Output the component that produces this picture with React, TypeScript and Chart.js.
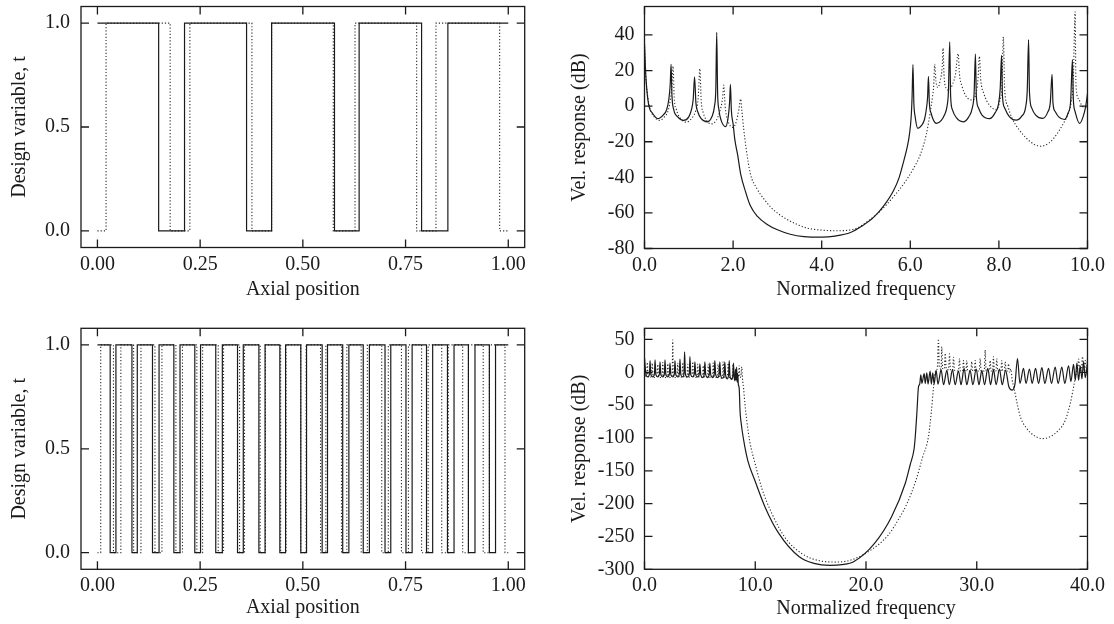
import React, { useEffect, useRef } from "react";
import { Chart, registerables } from "chart.js";

Chart.register(...registerables);

const FONT = "'Liberation Serif', 'Times New Roman', serif";
const INK = "#1a1a1a";

// ---------- tick values / labels ----------
const axialTicks = [0, 0.25, 0.5, 0.75, 1];
const axialLabels = ["0.00", "0.25", "0.50", "0.75", "1.00"];
const designTicks = [0, 0.5, 1];
const designLabels = ["0.0", "0.5", "1.0"];
const freqTicksTop = [0, 2, 4, 6, 8, 10];
const freqLabelsTop = ["0.0", "2.0", "4.0", "6.0", "8.0", "10.0"];
const dbTicksTop = [-80, -60, -40, -20, 0, 20, 40];
const dbLabelsTop = ["-80", "-60", "-40", "-20", "0", "20", "40"];
const freqTicksBottom = [0, 10, 20, 30, 40];
const freqLabelsBottom = ["0.0", "10.0", "20.0", "30.0", "40.0"];
const dbTicksBottom = [-300, -250, -200, -150, -100, -50, 0, 50];
const dbLabelsBottom = ["-300", "-250", "-200", "-150", "-100", "-50", "0", "50"];

// ---------- design variable layouts (switch positions) ----------
const topSolidEdges = [0, 0.149, 0.212, 0.363, 0.424, 0.577, 0.637, 0.789, 0.853, 1.0];
const topSolidStart = 1;
const topDottedEdges = [0, 0.021, 0.177, 0.225, 0.376, 0.424, 0.574, 0.627, 0.777, 0.824, 0.979, 1.0];
const topDottedStart = 0;

const bottomSolidEdges = [
  0, 0.031, 0.045, 0.084, 0.097, 0.134, 0.15, 0.186, 0.201, 0.237, 0.251, 0.288, 0.304,
  0.341, 0.355, 0.393, 0.408, 0.444, 0.458, 0.495, 0.509, 0.547, 0.56, 0.597, 0.612,
  0.647, 0.662, 0.7, 0.714, 0.751, 0.766, 0.801, 0.816, 0.852, 0.868, 0.903, 0.919,
  0.954, 0.969, 1.0,
];
const bottomSolidStart = 1;
const bottomDottedEdges = [
  0, 0.008, 0.039, 0.057, 0.088, 0.106, 0.14, 0.157, 0.191, 0.207, 0.242, 0.256, 0.294,
  0.307, 0.346, 0.358, 0.396, 0.409, 0.446, 0.459, 0.495, 0.508, 0.543, 0.556, 0.594,
  0.607, 0.642, 0.657, 0.692, 0.708, 0.74, 0.757, 0.789, 0.805, 0.838, 0.854, 0.889,
  0.903, 0.939, 0.954, 0.992, 1.0,
];
const bottomDottedStart = 0;

// ---------- velocity responses, top (freq, dB) ----------
const topRespSolid: [number, number][] = [
  [0, 35], [0.02, 22], [0.05, 10], [0.1, 0], [0.18, -4], [0.3, -7], [0.42, -5], [0.5, -2],
  [0.55, 4], [0.58, 12], [0.6, 23.5], [0.62, 6], [0.66, -2], [0.75, -6], [0.88, -8],
  [1.0, -6], [1.06, -2], [1.1, 4], [1.13, 16.5], [1.16, 2], [1.2, -3], [1.28, -7],
  [1.42, -8.8], [1.52, -6], [1.58, 0], [1.61, 10], [1.63, 41.5], [1.65, 8], [1.68, -2],
  [1.73, -8], [1.83, -11.5], [1.89, -6], [1.92, 2], [1.94, 12.2], [1.96, -2], [2.0, -10],
  [2.04, -19], [2.1, -27], [2.17, -38], [2.28, -48], [2.39, -56], [2.55, -62], [2.77, -66.5],
  [3.0, -69.5], [3.29, -72], [3.6, -73.3], [4.0, -73.6], [4.3, -73], [4.65, -71],
  [4.9, -67.5], [5.17, -62.5], [5.4, -56], [5.62, -47.5], [5.75, -40], [5.85, -31],
  [5.93, -23], [5.98, -16], [6.02, -6], [6.04, 5], [6.06, 23.4], [6.08, 2], [6.11, -6],
  [6.17, -12.5], [6.25, -11], [6.32, -7.5], [6.36, -2], [6.39, 5], [6.41, 16.8], [6.43, 2],
  [6.47, -4], [6.59, -9.7], [6.7, -8], [6.77, -5], [6.83, 0], [6.86, 8], [6.89, 36.1],
  [6.91, 6], [6.95, -2], [7.04, -6.5], [7.19, -8.8], [7.32, -6], [7.4, -1], [7.44, 7],
  [7.47, 29.2], [7.49, 6], [7.54, -1], [7.62, -5], [7.79, -7], [7.92, -3.5], [7.99, 1],
  [8.03, 10], [8.06, 28.6], [8.08, 6], [8.13, -1], [8.24, -6], [8.39, -7.9], [8.52, -5.5],
  [8.6, -1], [8.64, 9], [8.67, 37.4], [8.69, 8], [8.74, -1], [8.83, -5], [8.99, -6.9],
  [9.1, -3.5], [9.16, 2], [9.2, 17.9], [9.22, 2], [9.27, -3], [9.35, -6], [9.48, -7.5],
  [9.56, -4], [9.62, 3], [9.66, 26.2], [9.68, 4], [9.72, -3], [9.82, -9.7], [9.9, -6],
  [9.96, 0], [10.0, 7],
];
const topRespDotted: [number, number][] = [
  [0, 35], [0.02, 20], [0.06, 8], [0.12, -1], [0.22, -6], [0.34, -8], [0.45, -6],
  [0.54, -2], [0.59, 5], [0.62, 12], [0.645, 22.5], [0.67, 5], [0.72, -2], [0.8, -6.5],
  [0.94, -9], [1.06, -7], [1.15, -3], [1.21, 4], [1.25, 21], [1.28, 3], [1.33, -4],
  [1.4, -8], [1.5, -10], [1.62, -8], [1.7, -3], [1.76, 4], [1.79, 11.8], [1.82, 0],
  [1.88, -8], [2.0, -12], [2.08, -8], [2.13, -2], [2.17, 4], [2.2, -3], [2.24, -13],
  [2.29, -23], [2.39, -38], [2.53, -46], [2.69, -52], [2.9, -58], [3.14, -62.5], [3.4, -66],
  [3.67, -68.5], [4.0, -69.7], [4.4, -70], [4.8, -68.5], [5.05, -64.5], [5.32, -59],
  [5.6, -51.5], [5.85, -43.7], [6.05, -36], [6.23, -27], [6.36, -16], [6.44, -5], [6.5, 5],
  [6.53, 12], [6.55, 23.5], [6.58, 14], [6.62, 10.5], [6.68, 15], [6.72, 22], [6.74, 32.5],
  [6.76, 18], [6.81, 10], [6.87, 9], [6.95, 12], [7.02, 18], [7.08, 29.5], [7.11, 18],
  [7.17, 11], [7.26, 5.5], [7.41, 3.4], [7.49, 8], [7.53, 16], [7.56, 28], [7.59, 15],
  [7.66, 7], [7.79, 0.5], [7.94, -2], [8.02, 3], [8.07, 12], [8.1, 39], [8.13, 10],
  [8.2, 0], [8.3, -7], [8.45, -13], [8.62, -18], [8.8, -21.5], [8.95, -22.5], [9.14, -20.5],
  [9.3, -16], [9.45, -10], [9.55, -5], [9.63, 2], [9.68, 15], [9.72, 53], [9.74, 12],
  [9.8, 4], [9.88, 0], [10.0, -1],
];

// ---------- velocity responses, bottom (freq, dB) ----------
const bottomRespSolid: [number, number][] = [
  [0, 22], [0.15, -5], [0.3, -7], [0.45, -2], [0.5, 18], [0.58, -4], [0.75, -7], [0.9, -2],
  [0.95, 19], [1.03, -4], [1.2, -7], [1.35, -2], [1.4, 16], [1.48, -4], [1.65, -7],
  [1.8, -2], [1.85, 19], [1.93, -4], [2.1, -7], [2.25, -2], [2.3, 14], [2.38, -4],
  [2.55, -7], [2.7, -2], [2.75, 18], [2.83, -4], [3.0, -7], [3.15, -2], [3.2, 20],
  [3.28, -4], [3.45, -7], [3.57, -1], [3.62, 31], [3.7, -4], [3.9, -7], [4.05, -2],
  [4.1, 24], [4.18, -4], [4.35, -7], [4.5, -2], [4.55, 16], [4.63, -4], [4.8, -7],
  [4.95, -2], [5.0, 13], [5.08, -4], [5.25, -8], [5.4, -2], [5.45, 16], [5.53, -4],
  [5.7, -8], [5.85, -2], [5.9, 14], [5.98, -4], [6.15, -8], [6.3, -2], [6.35, 18],
  [6.43, -4], [6.6, -8], [6.75, -2], [6.8, 16], [6.88, -5], [7.05, -9], [7.2, -3],
  [7.25, 16], [7.33, -5], [7.48, -10], [7.6, -3], [7.65, 18], [7.72, -6], [7.88, -11],
  [7.98, -4], [8.03, 14], [8.1, -8], [8.17, -13], [8.22, 5], [8.27, -12], [8.32, 8],
  [8.37, -15], [8.42, -2], [8.47, -18], [8.55, -24.5], [8.63, -60], [8.71, -75],
  [8.95, -103], [9.32, -134], [9.95, -164], [10.88, -205], [12.11, -245], [13.97, -281],
  [15.3, -291], [16.75, -294], [17.8, -293], [18.92, -288], [20.77, -260.5], [22.31, -220],
  [23.55, -169], [24.0, -140], [24.33, -118], [24.44, -100], [24.6, -60], [24.74, -22],
  [24.85, -18], [24.95, -4], [25.05, -17], [25.25, -2], [25.35, -17], [25.49, -1],
  [25.6, -18], [25.79, 2], [25.9, -18], [26.03, -1], [26.15, -18], [26.33, 3], [26.5, -18],
  [26.78, 4], [27.0, -19], [27.3, 3], [27.52, -19], [27.81, 4], [28.05, -19], [28.35, 2],
  [28.58, -19], [28.86, 6], [29.1, -19], [29.4, 3], [29.65, -19], [29.95, 5], [30.2, -19],
  [30.46, 3], [30.7, -19], [31.0, 6], [31.25, -19], [31.51, 4], [31.75, -19], [32.05, 5],
  [32.3, -19], [32.6, 3], [32.9, -22], [33.2, -27], [33.45, -18], [33.68, 21], [33.9, -17],
  [34.22, 6], [34.45, -17], [34.76, 5], [35.0, -17], [35.31, 6], [35.58, -17], [35.88, 7],
  [36.15, -17], [36.48, 6], [36.75, -17], [37.08, 8], [37.35, -17], [37.68, 8],
  [37.95, -17], [38.29, 10], [38.5, -14], [38.74, 12], [38.9, -12], [39.04, 14],
  [39.2, -12], [39.34, 10], [39.5, -10], [39.64, 16], [39.8, -8], [40.0, 12],
];
const bottomRespDotted: [number, number][] = [
  [0, 10], [0.1, -6], [0.2, -3], [0.25, 15], [0.32, -5], [0.5, -8], [0.65, -3], [0.7, 14],
  [0.77, -5], [0.95, -8], [1.13, -3], [1.2, 12], [1.27, -5], [1.45, -8], [1.6, -3],
  [1.65, 15], [1.72, -5], [1.9, -8], [2.05, -3], [2.1, 13], [2.17, -5], [2.35, -8],
  [2.5, -2], [2.55, 49], [2.6, -4], [2.8, -8], [2.95, -3], [3.0, 14], [3.07, -5], [3.25, -8],
  [3.4, -3], [3.45, 15], [3.52, -5], [3.7, -8], [3.85, -3], [3.9, 12], [3.97, -5],
  [4.15, -8], [4.3, -3], [4.35, 16], [4.42, -5], [4.6, -8], [4.75, -3], [4.8, 12],
  [4.87, -5], [5.05, -8], [5.25, -3], [5.3, 10], [5.37, -5], [5.55, -8], [5.7, -3],
  [5.75, 12], [5.82, -5], [6.0, -8], [6.15, -3], [6.2, 14], [6.27, -5], [6.45, -8],
  [6.6, -3], [6.65, 12], [6.72, -5], [6.9, -9], [7.05, -3], [7.1, 16], [7.17, -5],
  [7.35, -9], [7.5, -3], [7.55, 14], [7.62, -5], [7.8, -10], [7.95, -3], [8.0, 12],
  [8.07, -6], [8.3, -11], [8.5, -4], [8.55, 10], [8.62, -8], [8.72, -4], [8.78, 8],
  [8.85, -10], [8.95, -25], [9.05, -45], [9.23, -73], [9.5, -105], [10.0, -140],
  [10.6, -177], [11.5, -215], [12.7, -252], [14.2, -276], [15.8, -287], [17.4, -289],
  [18.8, -285], [20.5, -270], [22.0, -248], [23.0, -222], [23.7, -200], [24.5, -165],
  [25.1, -130], [25.64, -98], [25.9, -60], [26.1, -22], [26.25, 0], [26.45, 8], [26.54, 51],
  [26.62, 8], [26.78, 5], [26.84, 39], [26.92, 6], [27.08, 5], [27.15, 29], [27.25, 5],
  [27.45, 4], [27.54, 28], [27.62, 4], [27.82, 3], [27.9, 23], [28.0, 3], [28.35, 2],
  [28.44, 21], [28.52, 2], [28.72, 2], [28.8, 18], [28.88, 2], [29.02, 2], [29.1, 18],
  [29.18, 2], [29.47, 2], [29.55, 16], [29.63, 2], [29.78, 2], [29.86, 18], [29.94, 2],
  [30.23, 2], [30.31, 21], [30.39, 2], [30.68, 2], [30.76, 34], [30.84, 2], [31.13, 2],
  [31.21, 18], [31.29, 2], [31.43, 2], [31.51, 24], [31.59, 2], [31.73, 2], [31.81, 21],
  [31.89, 2], [32.18, 2], [32.26, 18], [32.34, 2], [32.49, 2], [32.57, 16], [32.65, 2],
  [32.8, 2], [32.87, 13], [32.95, 0], [33.08, 5], [33.2, -12], [33.34, -22], [33.64, -47],
  [33.94, -68], [34.4, -83], [35.15, -96], [35.9, -101], [36.65, -98], [37.4, -88],
  [38.0, -73], [38.45, -47], [38.75, -22], [39.0, 0], [39.1, 5], [39.2, 20], [39.3, 2],
  [39.45, 4], [39.55, 24], [39.65, 3], [39.8, 18], [39.9, 2], [40.0, 22],
];

// ---------- helpers ----------
function stepPoints(edges: number[], start: number) {
  const pts: { x: number; y: number }[] = [];
  let level = start;
  for (let i = 0; i < edges.length - 1; i++) {
    pts.push({ x: edges[i], y: level }, { x: edges[i + 1], y: level });
    level = 1 - level;
  }
  return pts;
}
const toXY = (arr: [number, number][]) => arr.map(([x, y]) => ({ x, y }));

interface PanelSpec {
  left: number; top: number; width: number; height: number;
  plotLeft: number; plotTop: number; plotRight: number; plotBottom: number;
  xMin: number; xMax: number; yMin: number; yMax: number;
  xTicks: number[]; xLabels: string[]; yTicks: number[]; yLabels: string[];
  xTitle: string; yTitle: string;
  xTitlePad: number; yTitlePad: number; xTickPad: number; yTickPad: number;
  smooth: boolean;
  solid: { x: number; y: number }[]; dotted: { x: number; y: number }[];
}

const TICK_LEN = 8;

const framePlugin = {
  id: "frame",
  afterDraw(chart: any) {
    const { ctx, chartArea: a, scales } = chart;
    const xs = scales.x, ys = scales.y;
    ctx.save();
    ctx.strokeStyle = INK;
    ctx.lineWidth = 1.3;
    ctx.strokeRect(a.left, a.top, a.right - a.left, a.bottom - a.top);
    ctx.beginPath();
    for (const t of xs.ticks) {
      const px = xs.getPixelForValue(t.value);
      ctx.moveTo(px, a.bottom); ctx.lineTo(px, a.bottom - TICK_LEN);
      ctx.moveTo(px, a.top); ctx.lineTo(px, a.top + TICK_LEN);
    }
    for (const t of ys.ticks) {
      const py = ys.getPixelForValue(t.value);
      ctx.moveTo(a.left, py); ctx.lineTo(a.left + TICK_LEN, py);
      ctx.moveTo(a.right, py); ctx.lineTo(a.right - TICK_LEN, py);
    }
    ctx.stroke();
    ctx.restore();
  },
};

function Panel({ p }: { p: PanelSpec }) {
  const ref = useRef<HTMLCanvasElement | null>(null);
  useEffect(() => {
    if (!ref.current) return;
    const font = { family: FONT, size: 20 };
    const lineOpts = p.smooth ? { cubicInterpolationMode: "monotone", tension: 0.4 } : { tension: 0 };
    const chart = new Chart(ref.current, {
      type: "scatter",
      data: {
        datasets: [
          { data: p.solid, showLine: true, borderColor: INK, borderWidth: 1.2, pointRadius: 0, fill: false, ...lineOpts },
          { data: p.dotted, showLine: true, borderColor: "#2a2a2a", borderWidth: 1.1, borderDash: [1.2, 2], pointRadius: 0, fill: false, ...lineOpts },
        ],
      },
      options: {
        responsive: false,
        animation: false,
        devicePixelRatio: 1,
        events: [],
        layout: { padding: { left: 0, top: p.plotTop, right: p.width - p.plotRight, bottom: 0 } },
        plugins: { legend: { display: false }, tooltip: { enabled: false } },
        scales: {
          x: {
            type: "linear", position: "bottom", min: p.xMin, max: p.xMax,
            grid: { display: false, drawTicks: false }, border: { display: false },
            afterBuildTicks: (s: any) => { s.ticks = p.xTicks.map((v) => ({ value: v })); },
            afterFit: (s: any) => {
              s.height = p.height - p.plotBottom;
              s.paddingLeft = 0; s.paddingRight = 0; s.paddingTop = 0; s.paddingBottom = 0;
            },
            ticks: {
              autoSkip: false, maxRotation: 0, minRotation: 0, padding: p.xTickPad, color: INK, font,
              callback: (_v: any, i: number) => p.xLabels[i],
            },
            title: { display: true, text: p.xTitle, color: INK, font, padding: { top: 0, bottom: p.xTitlePad } },
          },
          y: {
            type: "linear", position: "left", min: p.yMin, max: p.yMax,
            grid: { display: false, drawTicks: false }, border: { display: false },
            afterBuildTicks: (s: any) => { s.ticks = p.yTicks.map((v) => ({ value: v })); },
            afterFit: (s: any) => {
              s.width = p.plotLeft;
              s.paddingLeft = 0; s.paddingRight = 0; s.paddingTop = 0; s.paddingBottom = 0;
            },
            ticks: {
              autoSkip: false, padding: p.yTickPad, color: INK, font,
              callback: (_v: any, i: number) => p.yLabels[i],
            },
            title: { display: true, text: p.yTitle, color: INK, font, padding: { top: p.yTitlePad, bottom: 0 } },
          },
        },
      },
      plugins: [framePlugin],
    } as any);
    return () => chart.destroy();
  }, [p]);
  return (
    <canvas
      ref={ref}
      width={p.width}
      height={p.height}
      style={{ position: "absolute", left: p.left, top: p.top, width: p.width, height: p.height }}
    />
  );
}

const panels: PanelSpec[] = [
  {
    left: 0, top: 0, width: 557, height: 312,
    plotLeft: 81, plotTop: 6.5, plotRight: 524.7, plotBottom: 247.5,
    xMin: -0.04, xMax: 1.04, yMin: -0.08, yMax: 1.08,
    xTicks: axialTicks, xLabels: axialLabels, yTicks: designTicks, yLabels: designLabels,
    xTitle: "Axial position", yTitle: "Design variable, t",
    xTitlePad: 10.2, yTitlePad: 8, xTickPad: 5.5, yTickPad: 11, smooth: false,
    solid: stepPoints(topSolidEdges, topSolidStart), dotted: stepPoints(topDottedEdges, topDottedStart),
  },
  {
    left: 557, top: 0, width: 557, height: 312,
    plotLeft: 87.5, plotTop: 6.5, plotRight: 530.5, plotBottom: 248.5,
    xMin: 0, xMax: 10, yMin: -80, yMax: 56,
    xTicks: freqTicksTop, xLabels: freqLabelsTop, yTicks: dbTicksTop, yLabels: dbLabelsTop,
    xTitle: "Normalized frequency", yTitle: "Vel. response (dB)",
    xTitlePad: 10.2, yTitlePad: 11.1, xTickPad: 5.5, yTickPad: 10, smooth: true,
    solid: toXY(topRespSolid), dotted: toXY(topRespDotted),
  },
  {
    left: 0, top: 312, width: 557, height: 312,
    plotLeft: 81, plotTop: 16.3, plotRight: 524.7, plotBottom: 257.3,
    xMin: -0.04, xMax: 1.04, yMin: -0.08, yMax: 1.08,
    xTicks: axialTicks, xLabels: axialLabels, yTicks: designTicks, yLabels: designLabels,
    xTitle: "Axial position", yTitle: "Design variable, t",
    xTitlePad: 3.8, yTitlePad: 8, xTickPad: 4.2, yTickPad: 11, smooth: false,
    solid: stepPoints(bottomSolidEdges, bottomSolidStart), dotted: stepPoints(bottomDottedEdges, bottomDottedStart),
  },
  {
    left: 557, top: 312, width: 557, height: 312,
    plotLeft: 87.5, plotTop: 16.3, plotRight: 530.5, plotBottom: 257.3,
    xMin: 0, xMax: 40, yMin: -300, yMax: 67,
    xTicks: freqTicksBottom, xLabels: freqLabelsBottom, yTicks: dbTicksBottom, yLabels: dbLabelsBottom,
    xTitle: "Normalized frequency", yTitle: "Vel. response (dB)",
    xTitlePad: 2.8, yTitlePad: 11.1, xTickPad: 4.3, yTickPad: 10, smooth: true,
    solid: toXY(bottomRespSolid), dotted: toXY(bottomRespDotted),
  },
];

export default function App() {
  return (
    <div style={{ position: "fixed", left: 0, top: 0, width: 1114, height: 624, background: "#fff", overflow: "hidden" }}>
      {panels.map((p, i) => (
        <Panel key={i} p={p} />
      ))}
    </div>
  );
}
